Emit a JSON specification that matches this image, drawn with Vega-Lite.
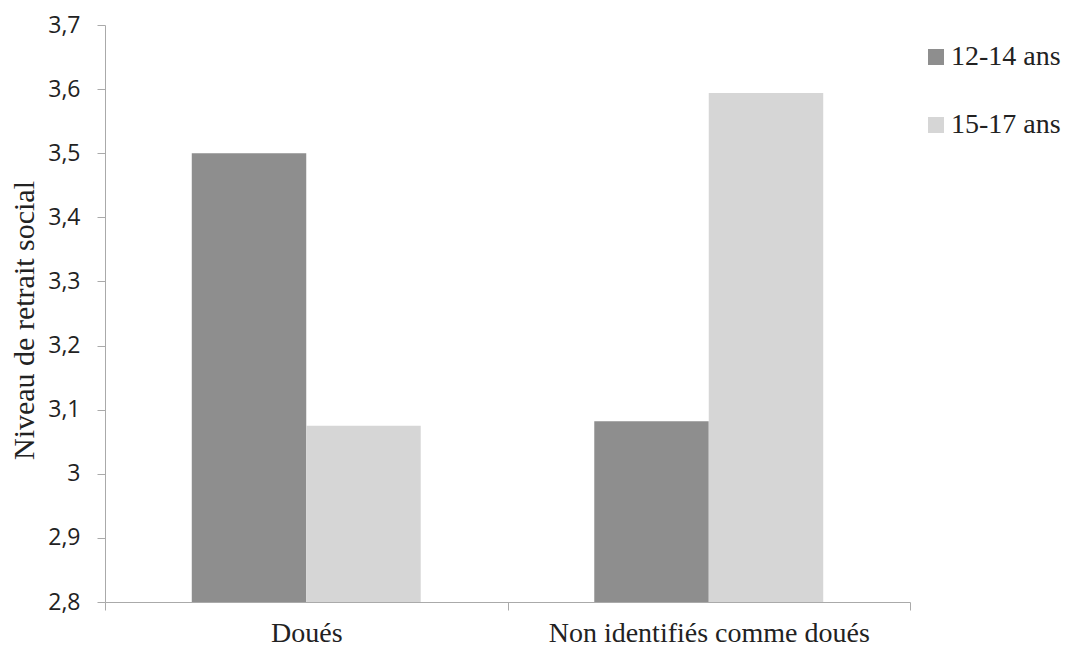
{
  "$schema": "https://vega.github.io/schema/vega-lite/v6.json",
  "autosize": "none",
  "width": 805,
  "height": 577,
  "padding": {"left": 105, "top": 25, "right": 156, "bottom": 46},
  "background": "white",
  "data": {
    "values": [
      {"groupe": "Doués", "age": "12-14 ans", "niveau": 3.5},
      {"groupe": "Doués", "age": "15-17 ans", "niveau": 3.075},
      {"groupe": "Non identifiés comme doués", "age": "12-14 ans", "niveau": 3.082},
      {"groupe": "Non identifiés comme doués", "age": "15-17 ans", "niveau": 3.594}
    ]
  },
  "mark": {"type": "bar"},
  "encoding": {
    "x": {
      "field": "groupe",
      "type": "nominal",
      "sort": null,
      "scale": {"paddingInner": 0, "paddingOuter": 0},
      "axis": {
        "title": null,
        "labelAngle": 0,
        "labelLimit": 0,
        "tickBand": "extent",
        "tickSize": 8,
        "tickColor": "#aaaaaa",
        "domainColor": "#aaaaaa",
        "labelFont": "Liberation Serif",
        "labelFontSize": 28,
        "labelColor": "#222222",
        "labelBaseline": "top",
        "labelPadding": 9
      }
    },
    "xOffset": {
      "field": "age",
      "type": "nominal",
      "scale": {"paddingInner": 0, "paddingOuter": 0.758}
    },
    "y": {
      "field": "niveau",
      "type": "quantitative",
      "scale": {"domain": [2.8, 3.7], "zero": false, "nice": false},
      "axis": {
        "title": "Niveau de retrait social",
        "titleFont": "Liberation Serif",
        "titleFontSize": 30,
        "titleFontWeight": "normal",
        "titleColor": "#222222",
        "titleAngle": -90,
        "titleBaseline": "alphabetic",
        "titleX": -72,
        "titleY": 295,
        "titleAlign": "center",
        "values": [2.8, 2.9, 3.0, 3.1, 3.2, 3.3, 3.4, 3.5, 3.6, 3.7],
        "labelExpr": "replace(format(datum.value, '~g'), '.', ',')",
        "labelFont": "Open Sans",
        "labelFontSize": 23,
        "labelColor": "#222222",
        "labelPadding": 17,
        "tickSize": 8,
        "tickColor": "#aaaaaa",
        "domainColor": "#aaaaaa",
        "grid": false
      }
    },
    "y2": {"datum": 2.8},
    "color": {
      "field": "age",
      "type": "nominal",
      "scale": {"domain": ["12-14 ans", "15-17 ans"], "range": ["#8e8e8e", "#d6d6d6"]},
      "legend": {
        "title": null,
        "orient": "none",
        "legendX": 817,
        "legendY": 18,
        "symbolType": "square",
        "symbolSize": 256,
        "symbolStrokeWidth": 0,
        "labelFont": "Liberation Serif",
        "labelFontSize": 28,
        "labelColor": "#222222",
        "labelOffset": 1,
        "rowPadding": 40,
        "padding": 0
      }
    }
  },
  "config": {"view": {"stroke": null}}
}
